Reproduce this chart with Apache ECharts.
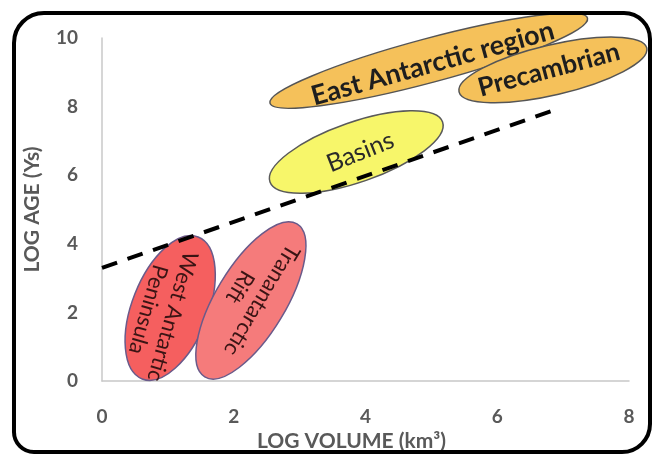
<!DOCTYPE html>
<html>
<head>
<meta charset="utf-8">
<script src="https://cdn.jsdelivr.net/npm/echarts@6/dist/echarts.min.js"></script>
<style>
html,body{margin:0;padding:0;background:#fff;}
#chart{width:657px;height:455px;}
</style>
</head>
<body>
<div id="chart"></div>
<script>
// ---- data ----
const xTicks = [0, 2, 4, 6, 8];
const yTicks = [0, 2, 4, 6, 8, 10];
const regionNames = ['East Antarctic region', 'Precambrian', 'Basins', 'West Antartic Peninsula', 'Tranantarctic Rift'];
const regionLabels = ['East Antarctic region', 'Precambrian', 'Basins', 'West Antartic\nPeninsula', 'Tranantarctic\nRift'];
// major-axis end points of each region (LOG VOLUME, LOG AGE)
const regionStartX = [2.55, 5.42, 2.55, 1.46, 2.96];
const regionStartY = [8.10, 8.43, 5.80, 4.20, 4.58];
const regionEndX   = [7.37, 8.27, 5.17, 0.61, 1.56];
const regionEndY   = [10.58, 9.71, 7.55, 0.06, 0.12];
// trend line
const trendX = [0, 6.87];
const trendY = [3.3, 7.9];

// ---- styles ----
const regionHalfWidth = [22, 25, 30, 38, 35];
const regionFill = ['#f5c15a', '#f5c15a', '#f7f66a', '#f55f5f', '#f57b7b'];
const regionStroke = ['#555555', '#555555', '#5a5a5a', '#6a5a8a', '#6a5a8a'];
const regionFont = [
  {size: 27, weight: 'bold', color: '#1e1e1e'},
  {size: 26, weight: 'bold', color: '#1e1e1e'},
  {size: 25, weight: 'normal', color: '#2a2a2a'},
  {size: 22, weight: 'normal', color: '#3a1414'},
  {size: 22, weight: 'normal', color: '#3a1414'}
];
const labelTiltDeg = [0.5, 1.7, 2.5, 5.6, 0];
const labelShift = [[4, 3], [-4, 0], [4, 0], [-10, 5], [0, -7]];

const regionData = regionNames.map((n, i) => [regionStartX[i], regionStartY[i], regionEndX[i], regionEndY[i], i]);
const font = 'Lato, "Open Sans", sans-serif';

const chart = echarts.init(document.getElementById('chart'));
chart.setOption({
  animation: false,
  grid: {left: 102, right: 28, top: 38, bottom: 74, containLabel: false, outerBoundsMode: 'none'},
  xAxis: {
    type: 'value', min: xTicks[0], max: xTicks[xTicks.length - 1], interval: 2,
    name: 'LOG VOLUME (km³)', nameLocation: 'middle', nameGap: 44,
    nameTextStyle: {fontSize: 21, fontWeight: 'bold', color: '#595959', fontFamily: font, padding: [0, 28, 0, 0]},
    axisLine: {lineStyle: {color: '#c8c8c8', width: 1.5}},
    axisTick: {show: false}, splitLine: {show: false},
    axisLabel: {fontSize: 19, fontWeight: 'bold', color: '#595959', margin: 26, fontFamily: font}
  },
  yAxis: {
    type: 'value', min: yTicks[0], max: yTicks[yTicks.length - 1], interval: 2,
    name: 'LOG AGE (Ys)', nameLocation: 'middle', nameGap: 59,
    nameTextStyle: {fontSize: 21, fontWeight: 'bold', color: '#595959', fontFamily: font},
    axisLine: {show: true, lineStyle: {color: '#c8c8c8', width: 1.5}},
    axisTick: {show: false}, splitLine: {show: false},
    axisLabel: {fontSize: 19, fontWeight: 'bold', color: '#595959', margin: 24, fontFamily: font}
  },
  graphic: [{
    type: 'rect', z: 100, silent: true,
    shape: {x: 14, y: 13, width: 636, height: 439, r: [30, 26, 28, 20]},
    style: {fill: 'none', stroke: '#000', lineWidth: 4}
  }],
  series: [{
    type: 'custom',
    clip: false,
    data: regionData,
    encode: {x: [0, 2], y: [1, 3]},
    renderItem: function (params, api) {
      const i = api.value(4);
      const p1 = api.coord([api.value(0), api.value(1)]);
      const p2 = api.coord([api.value(2), api.value(3)]);
      const cx = (p1[0] + p2[0]) / 2, cy = (p1[1] + p2[1]) / 2;
      const dx = p2[0] - p1[0], dy = p2[1] - p1[1];
      const rx = Math.sqrt(dx * dx + dy * dy) / 2;
      const rot = Math.atan2(-dy, dx);
      const f = regionFont[i];
      return {
        type: 'group',
        children: [{
          type: 'ellipse',
          x: cx, y: cy, rotation: rot,
          shape: {cx: 0, cy: 0, rx: rx, ry: regionHalfWidth[i]},
          style: {fill: regionFill[i], stroke: regionStroke[i], lineWidth: 1.5}
        }, {
          type: 'text',
          x: cx + labelShift[i][0], y: cy + labelShift[i][1],
          rotation: rot + labelTiltDeg[i] * Math.PI / 180,
          style: {
            text: regionLabels[i], x: 0, y: 0, align: 'center', verticalAlign: 'middle',
            fontSize: f.size, fontWeight: f.weight, fill: f.color, fontFamily: font,
            lineHeight: f.size * 1.15
          }
        }]
      };
    }
  }, {
    type: 'line',
    data: trendX.map((x, i) => [x, trendY[i]]),
    symbol: 'none',
    z: 5,
    lineStyle: {color: '#000', width: 4, type: [16, 11]}
  }]
});
</script>
</body>
</html>
